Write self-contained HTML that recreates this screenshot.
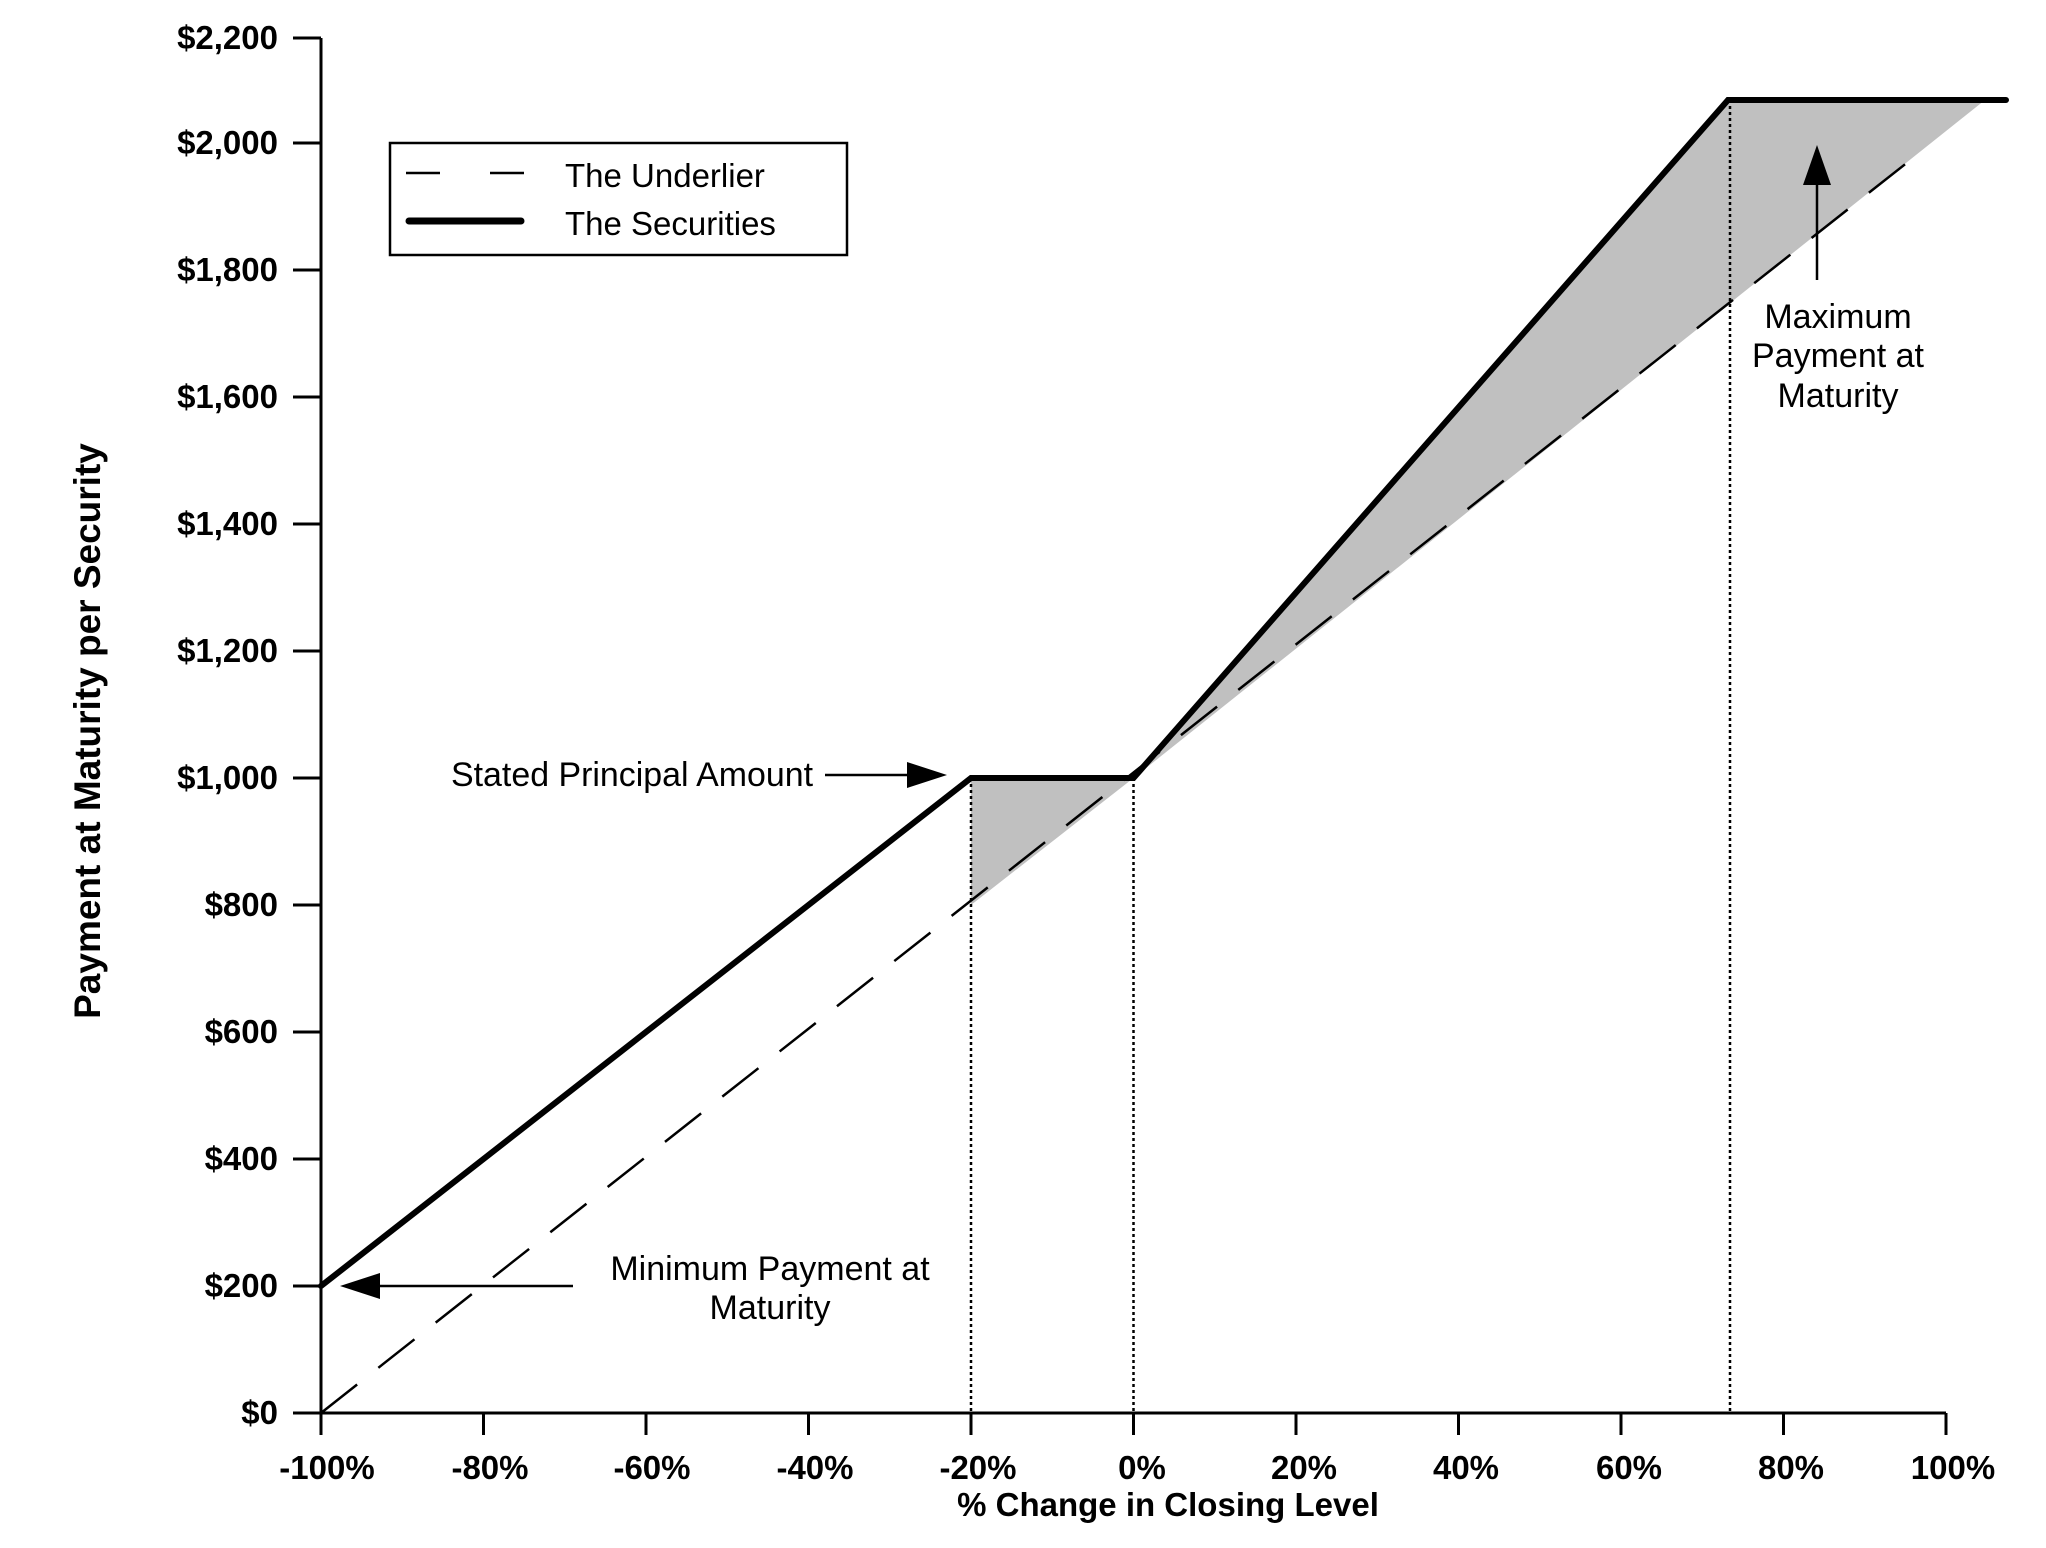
<!DOCTYPE html>
<html><head><meta charset="utf-8"><style>
html,body{margin:0;padding:0;background:#fff;}
svg{display:block;}
text{font-family:"Liberation Sans",Arial,sans-serif;fill:#000;}
</style></head><body>
<svg width="2046" height="1548" viewBox="0 0 2046 1548" xmlns="http://www.w3.org/2000/svg">
<rect width="2046" height="1548" fill="#fff"/>
<!-- fills -->
<polygon points="971,778 1133.5,778 971,905" fill="#c0c0c0"/>
<polygon points="1133.5,778 1728,100 1985,100" fill="#c0c0c0"/>
<!-- dotted verticals -->
<g stroke="#000" stroke-width="2.5" stroke-dasharray="3,3">
<line x1="971" y1="778" x2="971" y2="1413"/>
<line x1="1133.5" y1="778" x2="1133.5" y2="1413"/>
<line x1="1730" y1="100" x2="1730" y2="1413"/>
</g>
<!-- axes -->
<g stroke="#000" stroke-width="3" fill="none">
<line x1="321" y1="38" x2="321" y2="1435"/>
<line x1="321" y1="1413" x2="1946" y2="1413"/>
<line x1="293" y1="38" x2="321" y2="38"/>
<line x1="293" y1="143" x2="321" y2="143"/>
<line x1="293" y1="270" x2="321" y2="270"/>
<line x1="293" y1="397" x2="321" y2="397"/>
<line x1="293" y1="524" x2="321" y2="524"/>
<line x1="293" y1="651" x2="321" y2="651"/>
<line x1="293" y1="778" x2="321" y2="778"/>
<line x1="293" y1="905" x2="321" y2="905"/>
<line x1="293" y1="1032" x2="321" y2="1032"/>
<line x1="293" y1="1159" x2="321" y2="1159"/>
<line x1="293" y1="1286" x2="321" y2="1286"/>
<line x1="293" y1="1413" x2="321" y2="1413"/>
<line x1="483.5" y1="1413" x2="483.5" y2="1435"/>
<line x1="646" y1="1413" x2="646" y2="1435"/>
<line x1="808.5" y1="1413" x2="808.5" y2="1435"/>
<line x1="971" y1="1413" x2="971" y2="1435"/>
<line x1="1133.5" y1="1413" x2="1133.5" y2="1435"/>
<line x1="1296" y1="1413" x2="1296" y2="1435"/>
<line x1="1458.5" y1="1413" x2="1458.5" y2="1435"/>
<line x1="1621" y1="1413" x2="1621" y2="1435"/>
<line x1="1783.5" y1="1413" x2="1783.5" y2="1435"/>
<line x1="1946" y1="1413" x2="1946" y2="1435"/>
</g>
<!-- y tick labels -->
<g font-size="33" font-weight="bold" text-anchor="end">
<text x="278" y="49">$2,200</text>
<text x="278" y="154">$2,000</text>
<text x="278" y="281">$1,800</text>
<text x="278" y="408">$1,600</text>
<text x="278" y="535">$1,400</text>
<text x="278" y="662">$1,200</text>
<text x="278" y="789">$1,000</text>
<text x="278" y="916">$800</text>
<text x="278" y="1043">$600</text>
<text x="278" y="1170">$400</text>
<text x="278" y="1297">$200</text>
<text x="278" y="1424">$0</text>
</g>
<!-- x tick labels -->
<g font-size="33" font-weight="bold" text-anchor="middle">
<text x="327" y="1479">-100%</text>
<text x="490" y="1479">-80%</text>
<text x="652" y="1479">-60%</text>
<text x="815" y="1479">-40%</text>
<text x="978" y="1479">-20%</text>
<text x="1142" y="1479">0%</text>
<text x="1304" y="1479">20%</text>
<text x="1466" y="1479">40%</text>
<text x="1629" y="1479">60%</text>
<text x="1791" y="1479">80%</text>
<text x="1953" y="1479">100%</text>
</g>
<text x="1168" y="1516" font-size="33" font-weight="bold" text-anchor="middle">% Change in Closing Level</text>
<text transform="translate(100,731) rotate(-90)" font-size="37" font-weight="bold" text-anchor="middle">Payment at Maturity per Security</text>
<!-- series -->
<line x1="321" y1="1413" x2="1913" y2="158" stroke="#000" stroke-width="2.5" stroke-dasharray="46,27"/>
<polyline points="321,1286 971,778 1133.5,778 1728,100 2006,100" fill="none" stroke="#000" stroke-width="6" stroke-linejoin="miter" stroke-linecap="round"/>
<!-- legend -->
<rect x="390" y="143" width="457" height="112" fill="#fff" stroke="#000" stroke-width="2.5"/>
<line x1="406" y1="173" x2="524" y2="173" stroke="#000" stroke-width="2.5" stroke-dasharray="34,50"/>
<line x1="409" y1="221" x2="521" y2="221" stroke="#000" stroke-width="7" stroke-linecap="round"/>
<g font-size="33">
<text x="565" y="187">The Underlier</text>
<text x="565" y="235">The Securities</text>
</g>
<!-- annotations -->
<g font-size="34">
<text x="451" y="786" textLength="362" lengthAdjust="spacingAndGlyphs">Stated Principal Amount</text>
<text x="770" y="1280" text-anchor="middle">Minimum Payment at</text>
<text x="770" y="1319" text-anchor="middle">Maturity</text>
<text x="1838" y="328" text-anchor="middle">Maximum</text>
<text x="1838" y="367" text-anchor="middle">Payment at</text>
<text x="1838" y="407" text-anchor="middle">Maturity</text>
</g>
<line x1="825" y1="775" x2="910" y2="775" stroke="#000" stroke-width="2.5"/>
<polygon points="947,775 907,762 907,788" fill="#000"/>
<line x1="573" y1="1286" x2="377" y2="1286" stroke="#000" stroke-width="2.5"/>
<polygon points="340,1286 380,1273 380,1299" fill="#000"/>
<line x1="1817" y1="280" x2="1817" y2="182" stroke="#000" stroke-width="2.5"/>
<polygon points="1817,145 1803,185 1831,185" fill="#000"/>
</svg>
</body></html>
